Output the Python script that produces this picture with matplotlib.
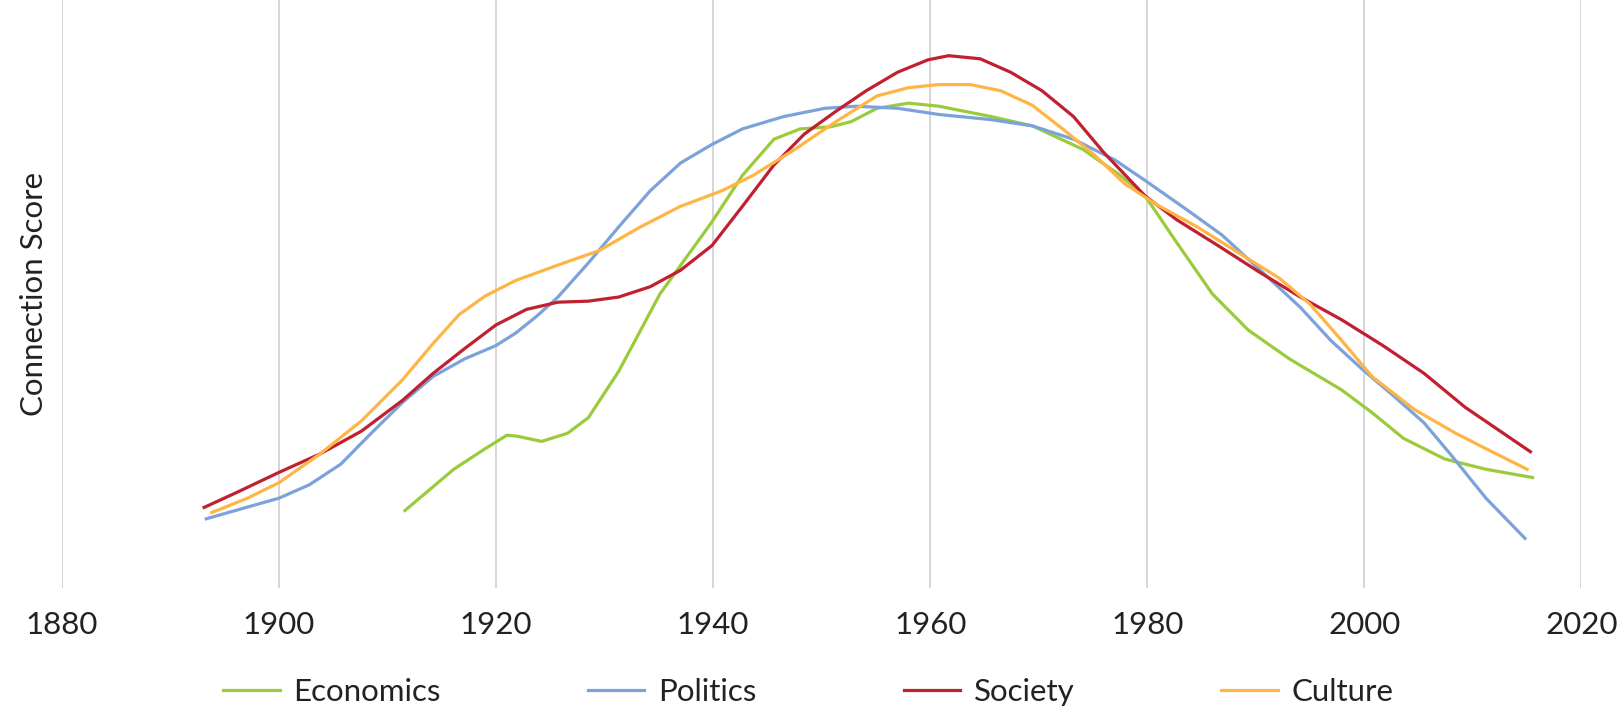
import matplotlib
matplotlib.use('Agg')
from matplotlib import pyplot as plt

# years / scores (score axis is unlabelled, arbitrary units)
econ_years = [1911.6, 1916.1, 1919.0, 1921.0, 1922.0, 1924.2, 1926.6, 1928.5, 1931.3, 1935.1, 1939.9,
              1942.7, 1945.6, 1948.0, 1950.8, 1952.7, 1955.1, 1958.0, 1960.8, 1965.6, 1969.4, 1974.1,
              1977.5, 1979.8, 1982.7, 1986.0, 1989.3, 1993.1, 1997.9, 2000.7, 2003.6, 2007.4, 2011.2, 2015.5]
econ_vals = [0.75, 1.15, 1.35, 1.48, 1.47, 1.42, 1.50, 1.65, 2.10, 2.85, 3.55,
             4.00, 4.35, 4.45, 4.47, 4.52, 4.65, 4.70, 4.67, 4.57, 4.48, 4.25,
             4.00, 3.80, 3.35, 2.85, 2.50, 2.22, 1.92, 1.70, 1.45, 1.25, 1.15, 1.07]

pol_years = [1893.3, 1900.0, 1902.8, 1905.7, 1908.5, 1911.4, 1914.2, 1917.1, 1920.0, 1921.8, 1923.7,
             1925.7, 1928.5, 1931.3, 1934.2, 1937.0, 1939.9, 1942.7, 1946.5, 1950.3, 1953.2, 1957.0,
             1960.8, 1965.6, 1969.4, 1973.2, 1977.0, 1979.8, 1983.6, 1986.9, 1990.2, 1994.1, 1996.9,
             1999.8, 2002.6, 2005.5, 2007.9, 2011.2, 2014.8]
pol_vals = [0.67, 0.87, 1.00, 1.20, 1.50, 1.80, 2.05, 2.22, 2.35, 2.47, 2.63,
            2.82, 3.15, 3.50, 3.85, 4.12, 4.30, 4.45, 4.57, 4.65, 4.67, 4.65,
            4.59, 4.54, 4.48, 4.35, 4.15, 3.95, 3.67, 3.42, 3.10, 2.72, 2.40,
            2.12, 1.87, 1.60, 1.30, 0.87, 0.48]

soc_years = [1893.1, 1896.2, 1900.0, 1903.8, 1907.6, 1911.4, 1914.2, 1917.1, 1920.0, 1922.8, 1925.7,
             1928.5, 1931.3, 1934.2, 1937.0, 1939.9, 1942.7, 1945.6, 1948.4, 1951.3, 1954.1, 1957.0,
             1959.8, 1961.7, 1964.6, 1967.4, 1970.3, 1973.2, 1976.0, 1979.8, 1982.7, 1986.5, 1990.2,
             1994.1, 1997.9, 2001.7, 2005.5, 2009.3, 2015.3]
soc_vals = [0.78, 0.93, 1.12, 1.30, 1.52, 1.82, 2.08, 2.32, 2.55, 2.70, 2.77,
            2.78, 2.82, 2.92, 3.08, 3.32, 3.70, 4.10, 4.40, 4.62, 4.82, 5.00,
            5.12, 5.16, 5.13, 5.00, 4.82, 4.57, 4.22, 3.80, 3.57, 3.32, 3.07,
            2.82, 2.60, 2.35, 2.08, 1.75, 1.32]

cul_years = [1893.8, 1897.1, 1900.0, 1903.8, 1907.6, 1911.4, 1914.2, 1916.6, 1919.0, 1921.8, 1925.7,
             1929.5, 1933.3, 1937.0, 1940.8, 1943.7, 1947.5, 1951.3, 1955.1, 1958.0, 1960.8, 1963.7,
             1966.5, 1969.4, 1972.2, 1975.1, 1977.9, 1980.8, 1984.6, 1988.4, 1992.2, 1995.0, 1997.9,
             2000.7, 2004.6, 2008.4, 2011.2, 2015.0]
cul_vals = [0.73, 0.87, 1.02, 1.30, 1.62, 2.02, 2.37, 2.65, 2.83, 2.98, 3.13,
            3.27, 3.50, 3.70, 3.85, 4.00, 4.25, 4.52, 4.77, 4.85, 4.88, 4.88,
            4.82, 4.68, 4.45, 4.20, 3.92, 3.72, 3.50, 3.25, 3.00, 2.75, 2.40,
            2.05, 1.73, 1.50, 1.35, 1.15]

xticks = [1880, 1900, 1920, 1940, 1960, 1980, 2000, 2020]

plt.rcParams['font.family'] = ['Lato', 'DejaVu Sans']

fig = plt.figure(figsize=(16.17, 7.10), dpi=100)
ax = fig.add_axes([0.0383, 0.172, 0.9397, 0.828])

ax.plot(econ_years, econ_vals, color='#9BCB3B', lw=2.3, label='Economics')
ax.plot(pol_years, pol_vals, color='#7BA3DA', lw=2.3, label='Politics')
ax.plot(soc_years, soc_vals, color='#C0202F', lw=2.3, label='Society')
ax.plot(cul_years, cul_vals, color='#FFB545', lw=2.3, label='Culture')

ax.set_xlim(1880, 2020)
ax.set_ylim(0, 5.7)
ax.set_xticks(xticks)
ax.set_yticks([])
ax.grid(axis='x', color='#D0D0D0', lw=1.2)
ax.set_axisbelow(True)
for s in ax.spines.values():
    s.set_visible(False)
ax.tick_params(axis='x', length=0, pad=17, labelsize=22.5, labelcolor='#222222')
ax.set_ylabel('Connection Score', fontsize=22.5, color='#222222', labelpad=10)

fig.legend(loc='center', bbox_to_anchor=(0.5, 0.025), ncol=4, frameon=False, fontsize=22.5,
           handlelength=1.8, handletextpad=0.45, columnspacing=4.7, labelcolor='#222222')

fig.savefig('out.png', dpi=100)
